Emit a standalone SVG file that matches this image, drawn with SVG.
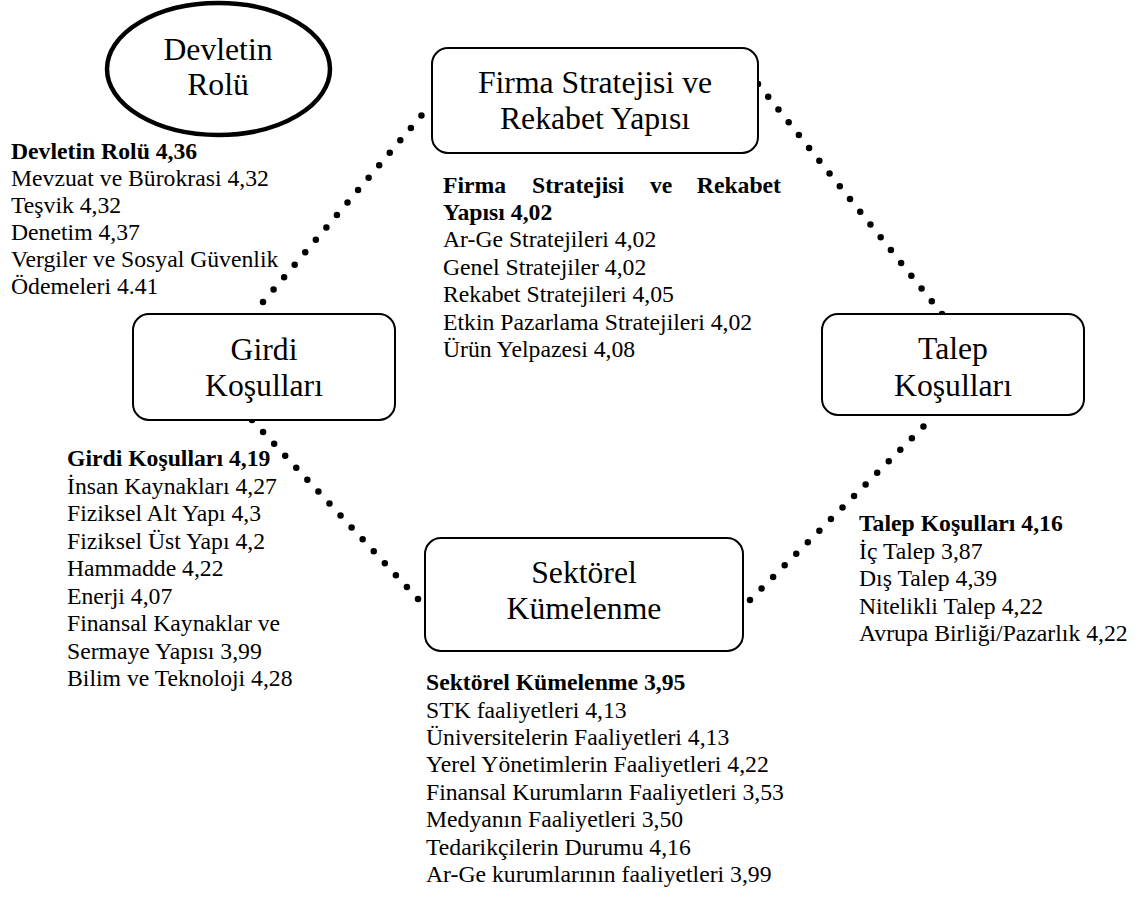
<svg xmlns="http://www.w3.org/2000/svg" width="1148" height="897" viewBox="0 0 1148 897">
<defs>
<style>
svg .big{font-family:'Liberation Serif','Times New Roman',serif;font-size:31.7px;text-anchor:middle;fill:#000}
svg .sm{font-family:'Liberation Serif','Times New Roman',serif;font-size:23.7px;fill:#000}
svg .b{font-weight:bold}
.box{fill:#fff;stroke:#000;stroke-width:2}
.dots{fill:none;stroke:#000;stroke-width:6.5;stroke-linecap:round;stroke-dasharray:0 1}
</style>
</defs>
<rect x="0" y="0" width="1148" height="897" fill="#fff"/>
<g id="connectors">
<path class="dots" pathLength="16" d="M263,302 L432,103"/>
<path class="dots" pathLength="18" d="M758,84 L942,314"/>
<path class="dots" pathLength="15" d="M252,420 L418,599"/>
<path class="dots" pathLength="16" d="M750,600 L935,415"/>
</g>
<g id="node-devlet">
<ellipse cx="218.5" cy="69" rx="111.5" ry="66" fill="#fff" stroke="#000" stroke-width="4.5"/>
<text class="big" x="218" y="60">Devletin</text>
<text class="big" x="218" y="95">Rolü</text>
</g>
<g id="node-firma">
<rect class="box" x="432" y="48" width="326" height="105" rx="16"/>
<text class="big" x="595" y="93">Firma Stratejisi ve</text>
<text class="big" x="595" y="129">Rekabet Yapısı</text>
</g>
<g id="node-girdi">
<rect class="box" x="133" y="314" width="262" height="106" rx="16"/>
<text class="big" x="264" y="360">Girdi</text>
<text class="big" x="264" y="396">Koşulları</text>
</g>
<g id="node-talep">
<rect class="box" x="822" y="314" width="262" height="101" rx="16"/>
<text class="big" x="953" y="359">Talep</text>
<text class="big" x="953" y="396">Koşulları</text>
</g>
<g id="node-sektorel">
<rect class="box" x="425" y="538" width="318" height="113" rx="16"/>
<text class="big" x="584" y="583">Sektörel</text>
<text class="big" x="584" y="619">Kümelenme</text>
</g>
<g id="label-devlet">
<text class="sm b" x="11" y="159">Devletin Rolü 4,36</text>
<text class="sm" x="11" y="186">Mevzuat ve Bürokrasi 4,32</text>
<text class="sm" x="11" y="213">Teşvik 4,32</text>
<text class="sm" x="11" y="240">Denetim 4,37</text>
<text class="sm" x="11" y="267">Vergiler ve Sosyal Güvenlik</text>
<text class="sm" x="11" y="294">Ödemeleri 4.41</text>
</g>
<g id="label-firma">
<text class="sm b" y="193"><tspan x="443">Firma</tspan><tspan x="532">Stratejisi</tspan><tspan x="650">ve</tspan><tspan x="781" text-anchor="end">Rekabet</tspan></text>
<text class="sm b" x="443" y="220">Yapısı 4,02</text>
<text class="sm" x="443" y="247">Ar-Ge Stratejileri 4,02</text>
<text class="sm" x="443" y="274.5">Genel Stratejiler 4,02</text>
<text class="sm" x="443" y="302">Rekabet Stratejileri 4,05</text>
<text class="sm" x="443" y="329.5">Etkin Pazarlama Stratejileri 4,02</text>
<text class="sm" x="443" y="357">Ürün Yelpazesi 4,08</text>
</g>
<g id="label-girdi">
<text class="sm b" x="67" y="466">Girdi Koşulları 4,19</text>
<text class="sm" x="67" y="493.5">İnsan Kaynakları 4,27</text>
<text class="sm" x="67" y="521">Fiziksel Alt Yapı 4,3</text>
<text class="sm" x="67" y="548.5">Fiziksel Üst Yapı 4,2</text>
<text class="sm" x="67" y="576">Hammadde 4,22</text>
<text class="sm" x="67" y="603.5">Enerji 4,07</text>
<text class="sm" x="67" y="631">Finansal Kaynaklar ve</text>
<text class="sm" x="67" y="658.5">Sermaye Yapısı 3,99</text>
<text class="sm" x="67" y="686">Bilim ve Teknoloji 4,28</text>
</g>
<g id="label-talep">
<text class="sm b" x="859" y="531">Talep Koşulları 4,16</text>
<text class="sm" x="859" y="558.5">İç Talep 3,87</text>
<text class="sm" x="859" y="586">Dış Talep 4,39</text>
<text class="sm" x="859" y="613.5">Nitelikli Talep 4,22</text>
<text class="sm" x="859" y="641">Avrupa Birliği/Pazarlık 4,22</text>
</g>
<g id="label-sektorel">
<text class="sm b" x="426" y="690">Sektörel Kümelenme 3,95</text>
<text class="sm" x="426" y="717.5">STK faaliyetleri 4,13</text>
<text class="sm" x="426" y="745">Üniversitelerin Faaliyetleri 4,13</text>
<text class="sm" x="426" y="772">Yerel Yönetimlerin Faaliyetleri 4,22</text>
<text class="sm" x="426" y="799.5">Finansal Kurumların Faaliyetleri 3,53</text>
<text class="sm" x="426" y="827">Medyanın Faaliyetleri 3,50</text>
<text class="sm" x="426" y="854.5">Tedarikçilerin Durumu 4,16</text>
<text class="sm" x="426" y="882">Ar-Ge kurumlarının faaliyetleri 3,99</text>
</g>
</svg>
